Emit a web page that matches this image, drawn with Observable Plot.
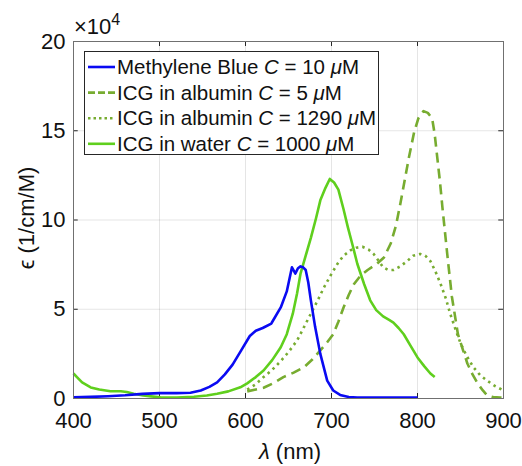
<!DOCTYPE html>
<html>
<head>
<meta charset="utf-8">
<script src="https://cdn.jsdelivr.net/npm/d3@7"></script>
<script src="https://cdn.jsdelivr.net/npm/@observablehq/plot@0.6"></script>
<style>
  html, body { margin: 0; padding: 0; background: white; }
  #chart { position: relative; width: 522px; height: 466px; }
</style>
</head>
<body>
<div id="chart"></div>
<script>
// ---- data (epsilon in units of 1e4 1/cm/M) ----
const mbX = [400, 420, 440, 460, 480, 500, 520, 536, 548, 558, 567, 576, 585, 595, 605, 612, 620, 630, 641, 648, 654, 658, 661, 664, 667, 670, 673, 676, 681, 687, 695, 702, 710, 720, 730, 760, 800];
const mbY = [0.07, 0.09, 0.13, 0.18, 0.26, 0.3, 0.3, 0.32, 0.45, 0.65, 0.9, 1.35, 1.9, 2.7, 3.5, 3.8, 3.95, 4.2, 5.1, 6.0, 7.35, 7.0, 7.3, 7.4, 7.35, 7.2, 6.5, 5.5, 4.0, 2.5, 1.0, 0.45, 0.2, 0.08, 0.06, 0.05, 0.05];

const wX = [400, 404, 410, 420, 430, 443, 455, 462, 470, 481, 490, 501, 520, 540, 555, 567, 580, 594, 602, 612, 621, 631, 641, 648, 655, 660, 664, 670, 676, 682, 687, 693, 698, 703, 708, 714, 719, 725, 730, 738, 745, 752, 760, 767, 772, 778, 784, 792, 800, 808, 815, 820];
const wY = [1.4, 1.2, 0.9, 0.62, 0.5, 0.41, 0.41, 0.36, 0.27, 0.17, 0.12, 0.07, 0.05, 0.1, 0.17, 0.27, 0.4, 0.63, 0.85, 1.2, 1.57, 2.15, 2.87, 3.6, 4.75, 5.9, 7.0, 8.0, 9.0, 10.1, 11.1, 11.8, 12.3, 12.1, 11.7, 10.6, 9.6, 8.5, 7.55, 6.4, 5.5, 4.95, 4.6, 4.4, 4.25, 3.95, 3.6, 2.95, 2.3, 1.8, 1.4, 1.2];

const a5X = [602, 612, 621, 632, 644, 656, 668, 678, 687, 695, 702, 708, 714, 720, 726, 734, 742, 753, 761, 769, 775, 780, 785, 790, 796, 801, 807, 812, 817, 820, 823, 826, 829, 832, 835, 840, 847, 853, 858, 864, 870, 876, 881, 888, 896, 900];
const a5Y = [0.4, 0.5, 0.6, 0.85, 1.2, 1.45, 1.75, 2.2, 2.7, 3.15, 3.6, 4.3, 5.1, 5.8, 6.4, 6.9, 7.2, 7.55, 7.9, 8.7, 9.7, 10.9, 12.2, 13.5, 14.9, 15.7, 16.1, 16.0, 15.7, 14.8, 13.5, 12.2, 10.7, 9.3, 7.9, 5.7, 3.6, 2.7, 1.96, 1.35, 0.84, 0.45, 0.17, 0.08, 0.05, 0.05];

const a1X = [602, 612, 621, 631, 641, 650, 660, 668, 676, 684, 691, 699, 707, 714, 722, 729, 736, 743, 749, 755, 760, 766, 772, 780, 788, 795, 803, 809, 815, 821, 827, 833, 838, 844, 850, 857, 865, 873, 881, 890, 900];
const a1Y = [0.5, 0.8, 1.2, 1.6, 2.1, 2.6, 3.25, 4.0, 4.75, 5.5, 6.2, 6.9, 7.55, 8.0, 8.3, 8.45, 8.5, 8.35, 8.1, 7.7, 7.35, 7.2, 7.2, 7.4, 7.7, 8.0, 8.1, 8.0, 7.7, 7.1, 6.4, 5.6, 4.75, 3.9, 3.1, 2.4, 1.75, 1.3, 1.0, 0.7, 0.45];

const xTicks = [400, 500, 600, 700, 800, 900];
const yTicks = [0, 5, 10, 15, 20];
const seriesNames = ["Methylene Blue", "ICG in albumin", "ICG in albumin", "ICG in water"];
const seriesConc = ["10", "5", "1290", "1000"];
const seriesColors = ["#0a0af2", "#77ac30", "#77ac30", "#5fcf1d"];
const seriesDash = [null, "10,6", "2.5,4", null];

const zip = (xs, ys) => xs.map((x, i) => ({x, y: ys[i]}));
const series = [zip(mbX, mbY), zip(a5X, a5Y), zip(a1X, a1Y), zip(wX, wY)];
const drawOrder = [3, 2, 1, 0];

const FONT = "'Liberation Sans', Arial, Helvetica, sans-serif";
const axisColor = "#262626";

const marks = [
  Plot.gridX(xTicks, {stroke: "#000", strokeOpacity: 0.1, strokeWidth: 1}),
  Plot.gridY(yTicks, {stroke: "#000", strokeOpacity: 0.1, strokeWidth: 1}),
  // inward ticks (bottom, top, left, right)
  Plot.ruleX(xTicks, {x: d => d, y1: 0, y2: 0.28, stroke: axisColor}),
  Plot.ruleX(xTicks, {x: d => d, y1: 19.72, y2: 20, stroke: axisColor}),
  Plot.ruleY(yTicks, {y: d => d, x1: 400, x2: 405.5, stroke: axisColor}),
  Plot.ruleY(yTicks, {y: d => d, x1: 894.5, x2: 900, stroke: axisColor}),
];
for (const i of drawOrder) {
  marks.push(Plot.line(series[i], {
    x: "x", y: "y", stroke: seriesColors[i], strokeWidth: 2.6,
    strokeDasharray: seriesDash[i], strokeLinejoin: "round", strokeLinecap: "butt"
  }));
}
marks.push(
  Plot.frame({stroke: "#707070", strokeWidth: 1}),
  Plot.axisX({ticks: xTicks, tickSize: 0, tickPadding: 14, fontSize: 22, color: "#111", label: null, tickFormat: d => String(d)}),
  Plot.axisY({ticks: yTicks, tickSize: 0, tickPadding: 8, fontSize: 22, color: "#111", label: null, tickFormat: d => String(d)})
);

const plot = Plot.plot({
  width: 522,
  height: 466,
  marginLeft: 73,
  marginRight: 19,
  marginTop: 41,
  marginBottom: 68,
  x: {domain: [400, 900]},
  y: {domain: [0, 20]},
  style: {fontFamily: FONT, background: "white", color: "#111", overflow: "visible"},
  marks
});
document.getElementById("chart").appendChild(plot);

// ---- extra texts and legend ----
const svg = d3.select(plot);

// x label
const xl = svg.append("text").attr("x", 290).attr("y", 459).attr("text-anchor", "middle")
  .attr("font-family", FONT).attr("font-size", 22).attr("fill", "#111");
xl.append("tspan").attr("font-style", "italic").text("λ");
xl.append("tspan").text(" (nm)");

// y label
svg.append("text").attr("transform", "translate(34,218) rotate(-90)").attr("text-anchor", "middle")
  .attr("font-family", FONT).attr("font-size", 22).attr("fill", "#111").text("ϵ (1/cm/M)");

// exponent
const ex = svg.append("text").attr("x", 74).attr("y", 34).attr("text-anchor", "start")
  .attr("font-family", FONT).attr("font-size", 22).attr("fill", "#111");
ex.append("tspan").text("×10");
ex.append("tspan").attr("font-size", 16).attr("dy", -9).text("4");

// legend
const lg = svg.append("g").attr("text-anchor", "start");
lg.append("rect").attr("x", 84.5).attr("y", 51.5).attr("width", 294).attr("height", 103)
  .attr("fill", "white").attr("stroke", axisColor).attr("stroke-width", 1);
seriesNames.forEach((name, i) => {
  const cy = 67 + i * 25.6;
  lg.append("line").attr("x1", 88).attr("x2", 115).attr("y1", cy).attr("y2", cy)
    .attr("stroke", seriesColors[i]).attr("stroke-width", 2.6)
    .attr("stroke-dasharray", seriesDash[i] ? (i === 1 ? "7,3" : "2.5,3") : null);
  const t = lg.append("text").attr("x", 117).attr("y", cy + 7).attr("text-anchor", "start")
    .attr("font-family", FONT).attr("font-size", 20.5).attr("fill", "#111");
  t.append("tspan").text(name + " ");
  t.append("tspan").attr("font-style", "italic").text("C");
  t.append("tspan").text(" = " + seriesConc[i] + " ");
  t.append("tspan").attr("font-style", "italic").text("μ");
  t.append("tspan").text("M");
});
</script>
</body>
</html>
